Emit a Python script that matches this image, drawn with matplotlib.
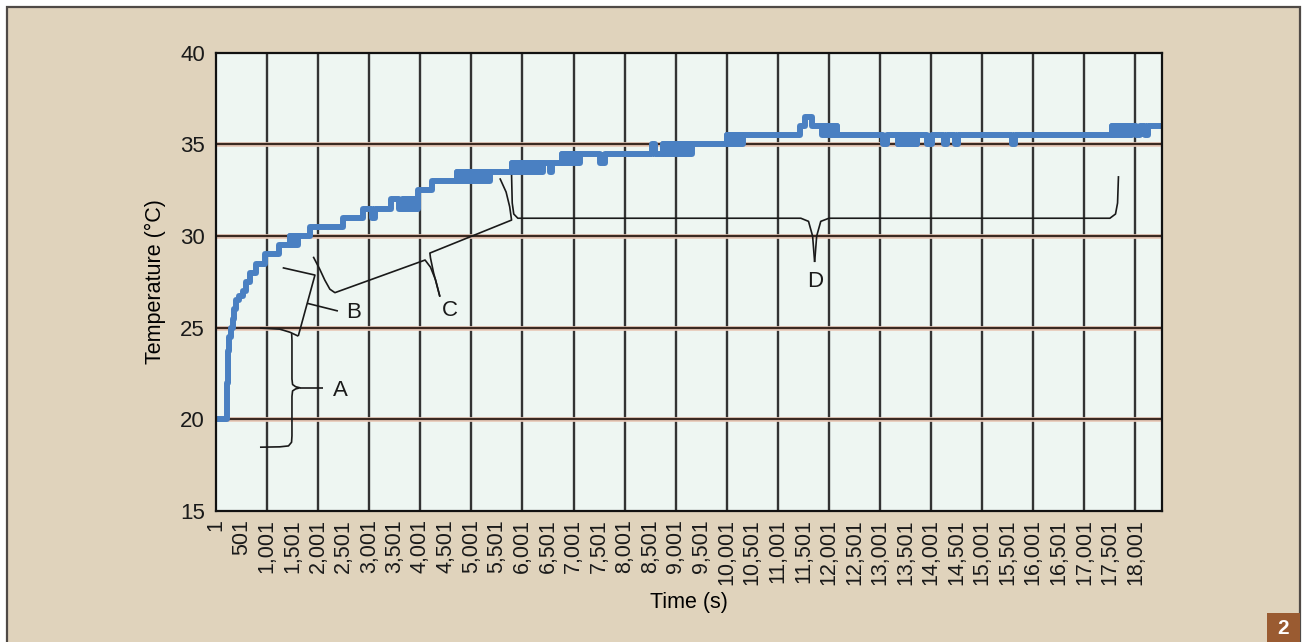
import matplotlib
matplotlib.use('Agg')
import matplotlib.pyplot as plt
from matplotlib.patches import Rectangle

plt.rcParams['font.family'] = ['Liberation Sans', 'DejaVu Sans']

# Logged temperature (steps), sample index vs degrees C
step_time = [1, 210, 218, 228, 240, 260, 290, 325, 360, 400, 450, 520, 580, 660, 790, 960,
             1230, 1450, 1840, 2480, 2880, 3060, 3110, 3420, 3580, 3660, 3950, 4230,
             4720, 5360, 5790, 6400, 6530, 6570, 6770, 7040, 7080, 7120, 7510, 7610,
             8530, 8590, 8750, 9310, 10000, 10310, 11430, 11525, 11660, 11860, 12150,
             13050, 13130, 13344, 13716, 13910, 14010, 14260, 14320, 14460, 14520,
             15575, 15635, 17550, 17940, 18020, 18080, 18180, 18240, 18520]
step_temp = [20.0, 21.0, 22.0, 23.0, 23.75, 24.5, 25.0, 25.5, 26.0, 26.5, 26.75, 27.0, 27.5, 28.0, 28.5, 29.0,
             29.5, 30.0, 30.5, 31.0, 31.5, 31.0, 31.5, 32.0, 31.5, 32.0, 32.5, 33.0,
             33.5, 33.5, 34.0, 34.0, 33.5, 34.0, 34.5, 34.0, 34.5, 34.5, 34.0, 34.5,
             35.0, 34.5, 35.0, 35.0, 35.5, 35.5, 36.0, 36.5, 36.0, 36.0, 35.5,
             35.0, 35.5, 35.0, 35.5, 35.0, 35.5, 35.0, 35.5, 35.0, 35.5,
             35.0, 35.5, 36.0, 36.0, 35.5, 36.0, 35.5, 36.0, 36.0]

# stretches where the sensor flickers between two adjacent readings
band_start = [1450, 3660, 4720, 5790, 6770, 8750, 10000, 11860, 13344, 17550]
band_end = [1610, 3950, 5360, 6400, 7120, 9310, 10310, 12150, 13716, 17940]
band_low = [29.5, 31.5, 33.0, 33.5, 34.0, 34.5, 35.0, 35.5, 35.0, 35.5]
band_high = [30.0, 32.0, 33.5, 34.0, 34.5, 35.0, 35.5, 36.0, 35.5, 36.0]

xtick_values = list(range(1, 18002, 500))
grid_x = list(range(1001, 18002, 1000))
grid_y = [20, 25, 30, 35]

# bracket outlines marking the phases
brace_a = [(1482, 24.7), (1488, 24.3), (1488, 22.2), (1500, 21.9), (1560, 21.78), (1645, 21.72),
           (1560, 21.66), (1500, 21.55), (1488, 21.25), (1488, 19.1), (1480, 18.75),
           (1420, 18.55), (1250, 18.5), (862, 18.48)]
brace_a_top = [(862, 24.98), (1250, 24.92), (1450, 24.75), (1611, 24.54)]
tick_a = [(1645, 21.72), (2094, 21.72)]
brace_b = [(1306, 28.27), (1938, 27.87), (1611, 24.54)]
tick_b = [(1786, 26.33), (2388, 25.91)]
brace_c_left = [(1905, 28.87), (2030, 28.2), (2130, 27.6), (2230, 27.1), (2329, 26.91),
                (4094, 28.69), (4200, 28.3), (4300, 27.6), (4384, 26.69)]
brace_c_right = [(4384, 26.69), (4260, 28.0), (4200, 28.8), (4188, 29.07), (5787, 30.87),
                 (5750, 31.6), (5680, 32.4), (5558, 33.15)]
brace_d_left = [(5787, 33.33), (5800, 31.8), (5830, 31.2), (5910, 30.97), (11450, 30.97),
                (11600, 30.8), (11680, 30.0), (11720, 28.58)]
brace_d_right = [(11720, 28.58), (11760, 30.0), (11840, 30.8), (12000, 30.97), (17500, 30.97),
                 (17610, 31.2), (17650, 31.8), (17668, 33.27)]

labels = {'A': (2427, 21.6), 'B': (2701, 25.85), 'C': (4580, 25.95), 'D': (11740, 27.5)}

line_color = '#4a80c2'
beige = '#e0d3bc'

fig = plt.figure(figsize=(13.02, 6.42), dpi=100, facecolor='white')
fig.patches.append(Rectangle((7 / 1302, -0.02), 1293 / 1302, 1 - 7 / 642 + 0.02,
                             transform=fig.transFigure, facecolor=beige,
                             edgecolor='#4f4a46', linewidth=1.6, zorder=-2))
fig.patches.append(Rectangle((1267 / 1302, 0), 33 / 1302, 29 / 642,
                             transform=fig.transFigure, facecolor='#9a5b31',
                             edgecolor='none', zorder=-1))
fig.text(1283.5 / 1302, 14 / 642, '2', color='white', fontsize=15, fontweight='bold',
         ha='center', va='center')

ax = fig.add_axes([216 / 1302, 1 - 511 / 642, 946 / 1302, 458.3 / 642])
ax.set_facecolor('#eef6f2')

for gx in grid_x:
    ax.axvline(gx, color='#333333', lw=1.7, zorder=1)
for gy in grid_y:
    ax.axhline(gy, color='#e8c9b8', lw=3.4, zorder=1)
    ax.axhline(gy, color='#3b2a22', lw=1.6, zorder=1)

for s, e, lo, hi in zip(band_start, band_end, band_low, band_high):
    ax.fill_between([s, e], lo, hi, color=line_color, edgecolor=line_color, lw=4.3, zorder=3)
ax.plot(step_time, step_temp, drawstyle='steps-post', color=line_color, lw=4.3, zorder=3)

for pts in [brace_a, brace_a_top, tick_a, brace_b, tick_b, brace_c_left, brace_c_right,
            brace_d_left, brace_d_right]:
    xs = [p[0] for p in pts]
    ys = [p[1] for p in pts]
    ax.plot(xs, ys, color='#1a1a1a', lw=1.2, zorder=4, solid_capstyle='butt')
for name, (lx, ly) in labels.items():
    ax.text(lx, ly, name, fontsize=16, ha='center', va='center', color='#1a1a1a', zorder=5)

ax.set_xlim(1, 18520)
ax.set_ylim(15, 40)
ax.set_xticks(xtick_values)
ax.set_xticklabels([f'{v:,}' for v in xtick_values], rotation=90, fontsize=15.5)
ax.set_yticks([15, 20, 25, 30, 35, 40])
ax.set_yticklabels(['15', '20', '25', '30', '35', '40'], fontsize=16)
ax.tick_params(axis='both', length=0, colors='#1a1a1a')
ax.tick_params(axis='x', pad=6)
ax.tick_params(axis='y', pad=8)
for sp in ax.spines.values():
    sp.set_linewidth(1.6)
    sp.set_color('#111111')
    sp.set_zorder(6)

ax.set_xlabel('Time (s)', fontsize=15.5, labelpad=5)
ax.set_ylabel('Temperature (°C)', fontsize=15.5, labelpad=10)

fig.savefig('out.png', dpi=100, facecolor=fig.get_facecolor())
